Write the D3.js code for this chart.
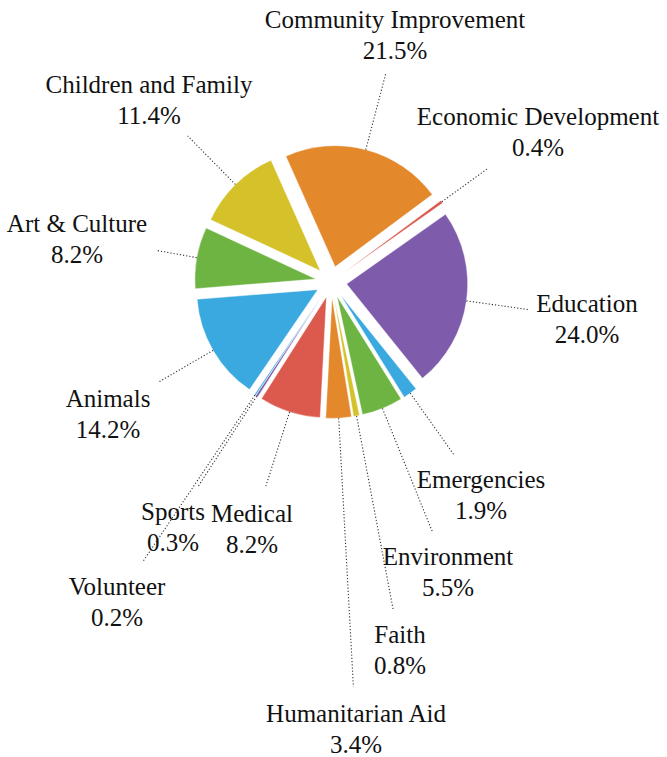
<!DOCTYPE html>
<html>
<head>
<meta charset="utf-8">
<script src="https://cdn.jsdelivr.net/npm/d3@7"></script>
<style>
  html, body { margin: 0; padding: 0; background: #fff; }
  svg { display: block; }
  text { font-family: "Liberation Serif", "Times New Roman", serif; font-size: 25px; fill: #111; }
</style>
</head>
<body>
<svg id="chart" width="667" height="757"></svg>
<script>
// ---- data ----
const categories = ["Animals", "Art & Culture", "Children and Family", "Community Improvement",
  "Economic Development", "Education", "Emergencies", "Environment", "Faith",
  "Humanitarian Aid", "Medical", "Sports", "Volunteer"];
const values = [14.2, 8.2, 11.4, 21.5, 0.4, 24.0, 1.9, 5.5, 0.8, 3.4, 8.2, 0.3, 0.2];
const valueLabels = ["14.2%", "8.2%", "11.4%", "21.5%", "0.4%", "24.0%", "1.9%", "5.5%", "0.8%", "3.4%", "8.2%", "0.3%", "0.2%"];

// ---- styling / layout ----
const palette = ["#3aa9e0", "#6db443", "#d5c22b", "#e3892c", "#dc5a4d", "#7f5bab"];
// label anchor: centre x, baseline y of the name line
const labelAnchors = [[108, 407], [77, 232], [149, 93], [395, 28], [538, 125], [587, 312],
  [481, 488], [448, 565], [400, 643], [356, 722], [252, 522], [173, 520], [117, 595]];
// leader line length beyond the slice apex (radial)
const leaderEnd = [183, 161, 189, 200, 178, 183, 197, 255, 318, 390, 201, 229, 322];

const cx = 331.2, cy = 281.8, R = 121, explode = 15.6;
const startDeg = 214.3;

const svg = d3.select("#chart");
const g = svg.append("g").attr("transform", `translate(${cx},${cy})`);

const pie = d3.pie().sort(null).value(d => d)
  .startAngle(startDeg * Math.PI / 180)
  .endAngle(startDeg * Math.PI / 180 + 2 * Math.PI);
const arcs = pie(values);
const arc = d3.arc().innerRadius(0).outerRadius(R);
const color = d3.scaleOrdinal().domain(d3.range(categories.length)).range(palette);

const dir = a => [Math.sin(a), -Math.cos(a)];

const slices = g.selectAll("g.slice").data(arcs).join("g")
  .attr("class", "slice")
  .attr("transform", d => {
    const m = (d.startAngle + d.endAngle) / 2;
    const [ux, uy] = dir(m);
    return `translate(${ux * explode},${uy * explode})`;
  });

slices.append("path")
  .attr("d", arc)
  .attr("fill", (d, i) => color(i))
  .attr("stroke", "#fff")
  .attr("stroke-width", 0.4);

// leader lines
slices.append("line")
  .attr("x1", d => dir((d.startAngle + d.endAngle) / 2)[0] * R)
  .attr("y1", d => dir((d.startAngle + d.endAngle) / 2)[1] * R)
  .attr("x2", (d, i) => dir((d.startAngle + d.endAngle) / 2)[0] * leaderEnd[i])
  .attr("y2", (d, i) => dir((d.startAngle + d.endAngle) / 2)[1] * leaderEnd[i])
  .attr("stroke", "#333")
  .attr("stroke-width", 1.1)
  .attr("stroke-dasharray", "1.2,2");

// labels
const labels = svg.append("g").selectAll("text").data(categories).join("text")
  .attr("text-anchor", "middle")
  .attr("x", (d, i) => labelAnchors[i][0])
  .attr("y", (d, i) => labelAnchors[i][1]);
labels.append("tspan").text(d => d);
labels.append("tspan")
  .attr("x", (d, i) => labelAnchors[i][0])
  .attr("dy", 31)
  .text((d, i) => valueLabels[i]);
</script>
</body>
</html>
